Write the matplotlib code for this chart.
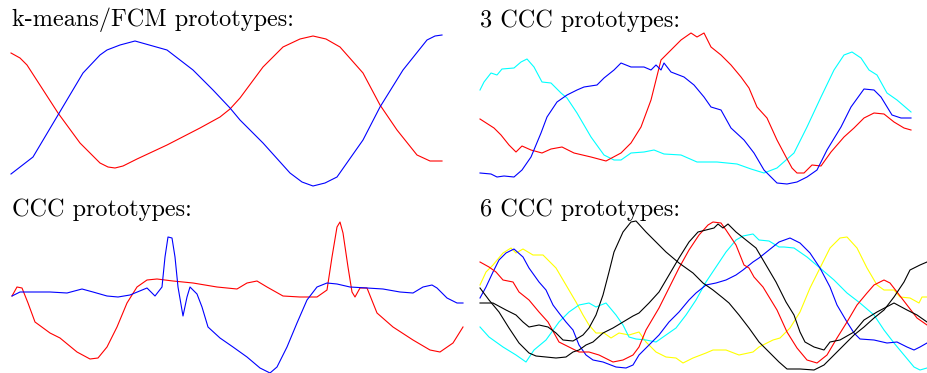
import matplotlib
matplotlib.use("Agg")
import matplotlib.pyplot as plt

# ---------------- DATOS (t = muestra, v = amplitud) ----------------
# k-means/FCM
km_red = [(1, 137), (10, 132), (17, 125), (48, 77), (70, 47), (90, 27), (98, 23), (105, 22),
          (113, 24), (127, 31), (157, 45), (190, 62), (210, 73), (220, 81), (230, 92), (253, 123),
          (273, 143), (290, 151), (303, 154), (316, 151), (330, 143), (353, 117), (370, 85),
          (387, 60), (407, 35), (420, 29), (432, 29)]
km_blue = [(1, 16), (23, 33), (48, 75), (73, 117), (90, 135), (97, 140), (110, 145), (125, 149),
           (157, 140), (183, 120), (203, 100), (220, 82), (230, 70), (253, 47), (280, 17), (292, 8),
           (303, 4), (315, 7), (327, 13), (353, 50), (370, 83), (393, 120), (417, 150), (425, 154),
           (432, 155)]

# 3 CCC
c3_cyan = [(2, 100), (6, 108), (13, 117), (19, 115), (24, 121), (36, 122), (43, 128), (49, 131),
           (56, 123), (64, 108), (73, 107), (83, 97), (89, 92), (99, 77), (113, 53), (126, 35),
           (136, 30), (143, 30), (153, 37), (166, 38), (176, 40), (186, 36), (203, 35), (219, 28),
           (239, 28), (259, 26), (273, 21), (286, 17), (299, 22), (316, 37), (329, 63), (343, 93),
           (356, 120), (366, 135), (374, 138), (383, 132), (391, 120), (399, 115), (409, 97),
           (419, 90), (433, 78)]
c3_red = [(2, 71), (16, 62), (23, 55), (31, 45), (38, 38), (44, 44), (53, 40), (64, 37), (73, 41),
          (84, 43), (96, 37), (113, 33), (128, 29), (143, 37), (153, 47), (163, 63), (173, 90),
          (183, 130), (193, 140), (203, 150), (213, 157), (219, 153), (226, 157), (233, 143),
          (243, 135), (253, 125), (263, 113), (271, 102), (279, 83), (289, 72), (299, 50), (308, 33),
          (314, 22), (319, 17), (326, 17), (334, 25), (343, 24), (353, 38), (366, 53), (376, 62),
          (386, 72), (396, 77), (406, 76), (416, 68), (426, 62), (433, 60)]
c3_blue = [(2, 17), (13, 16), (19, 13), (26, 14), (36, 13), (44, 20), (53, 33), (63, 57), (69, 73),
           (79, 88), (89, 95), (99, 100), (106, 103), (119, 105), (126, 112), (136, 120), (143, 127),
           (153, 123), (166, 123), (173, 120), (178, 125), (183, 120), (186, 127), (193, 118),
           (206, 113), (216, 105), (226, 93), (233, 83), (243, 80), (253, 62), (266, 50), (276, 37),
           (286, 20), (299, 7), (309, 6), (319, 8), (329, 13), (339, 20), (349, 40), (363, 63),
           (373, 83), (386, 101), (396, 100), (403, 93), (414, 75), (423, 72), (433, 72)]

# CCC
cc_red = [(2, 77), (7, 86), (12, 85), (18, 70), (25, 51), (40, 40), (50, 35), (67, 21), (80, 14),
          (88, 15), (97, 26), (107, 46), (117, 70), (127, 86), (137, 93), (147, 94), (163, 92),
          (183, 90), (207, 86), (227, 84), (237, 90), (247, 92), (257, 86), (273, 77), (290, 76),
          (307, 76), (317, 83), (322, 116), (327, 146), (330, 151), (333, 140), (338, 106), (342, 81),
          (345, 76), (350, 85), (357, 85), (367, 60), (383, 46), (403, 33), (420, 23), (430, 21),
          (443, 30), (453, 46)]
cc_blue = [(2, 77), (10, 81), (23, 81), (40, 81), (57, 80), (72, 84), (83, 81), (97, 77), (108, 76),
           (120, 78), (137, 85), (145, 77), (152, 86), (155, 116), (158, 136), (162, 135), (165, 116),
           (168, 86), (173, 57), (177, 76), (180, 86), (187, 79), (192, 66), (198, 46), (210, 35),
           (223, 26), (237, 16), (250, 5), (260, 0), (267, 6), (277, 26), (287, 50), (297, 73),
           (307, 86), (317, 90), (327, 89), (340, 86), (357, 85), (373, 84), (390, 81), (403, 80),
           (413, 86), (422, 88), (427, 85), (437, 75), (447, 70), (453, 70)]

# 6 CCC
c6_black1 = [(2, 70), (15, 70), (28, 63), (38, 58), (45, 51), (51, 46), (61, 48), (70, 46), (78, 40),
             (85, 33), (95, 32), (105, 38), (111, 45), (118, 58), (125, 78), (131, 101), (136, 121),
             (145, 141), (153, 151), (158, 152), (168, 141), (178, 131), (188, 121), (201, 110),
             (215, 100), (225, 90), (235, 83), (245, 75), (251, 70), (261, 58), (271, 45), (281, 31),
             (291, 21), (301, 11), (309, 4), (322, 4), (336, 3), (346, 8), (356, 18), (366, 28),
             (376, 38), (386, 46), (396, 55), (406, 63), (416, 76), (426, 91), (432, 103), (442, 108),
             (449, 111)]
c6_black2 = [(2, 85), (11, 73), (21, 61), (31, 45), (41, 30), (51, 20), (58, 17), (78, 15), (88, 16),
             (95, 21), (101, 23), (108, 28), (115, 31), (125, 40), (135, 45), (145, 51), (155, 57),
             (161, 60), (171, 70), (181, 81), (191, 98), (201, 115), (211, 131), (220, 141), (228, 143),
             (236, 145), (240, 149), (245, 145), (250, 149), (258, 141), (268, 133), (278, 125),
             (288, 108), (298, 91), (308, 71), (316, 58), (322, 41), (327, 31), (336, 26), (346, 23),
             (352, 31), (362, 33), (376, 41), (386, 53), (399, 61), (416, 70), (429, 63), (439, 58),
             (449, 51)]
c6_red = [(2, 111), (11, 106), (18, 101), (25, 93), (35, 91), (41, 81), (51, 73), (61, 61), (70, 51),
          (76, 40), (81, 31), (91, 26), (101, 21), (111, 21), (121, 18), (135, 11), (145, 13),
          (155, 18), (161, 26), (168, 43), (181, 65), (191, 85), (201, 105), (211, 123), (221, 138),
          (230, 148), (235, 151), (243, 150), (248, 143), (258, 128), (266, 108), (271, 105),
          (276, 96), (285, 86), (299, 63), (309, 41), (319, 25), (329, 13), (339, 10), (349, 18),
          (359, 35), (369, 51), (379, 68), (389, 80), (396, 88), (406, 93), (412, 90), (419, 81),
          (429, 68), (439, 55), (449, 48)]
c6_blue = [(2, 75), (8, 86), (15, 101), (21, 113), (28, 120), (36, 124), (45, 116), (51, 105),
           (61, 91), (68, 83), (75, 68), (81, 60), (88, 51), (95, 43), (101, 28), (108, 18), (115, 13),
           (125, 11), (138, 6), (148, 5), (155, 8), (161, 18), (171, 28), (181, 38), (191, 51),
           (201, 61), (211, 73), (218, 80), (228, 88), (238, 90), (248, 93), (258, 98), (265, 103),
           (275, 111), (281, 115), (291, 123), (301, 131), (312, 135), (322, 130), (332, 120),
           (342, 105), (352, 86), (359, 68), (369, 51), (376, 40), (382, 34), (396, 33), (409, 30),
           (419, 31), (429, 26), (436, 23), (442, 26), (449, 30)]
c6_yellow = [(2, 88), (8, 101), (15, 108), (25, 120), (33, 125), (38, 120), (45, 124), (55, 118),
             (65, 118), (78, 105), (88, 88), (98, 71), (105, 58), (111, 48), (118, 40), (126, 40),
             (133, 35), (141, 40), (151, 38), (161, 41), (168, 31), (178, 21), (188, 16), (198, 15),
             (205, 10), (215, 15), (228, 20), (235, 23), (248, 23), (261, 18), (275, 21), (281, 26),
             (295, 33), (302, 35), (312, 45), (322, 61), (332, 85), (342, 105), (352, 125), (362, 135),
             (369, 136), (379, 125), (389, 105), (399, 88), (406, 83), (416, 83), (422, 76), (432, 75),
             (441, 70), (444, 76), (449, 76)]
c6_cyan = [(2, 46), (11, 36), (25, 26), (38, 18), (48, 11), (56, 23), (68, 33), (81, 51), (91, 61),
           (101, 68), (111, 70), (118, 66), (128, 70), (138, 58), (145, 48), (151, 36), (158, 34),
           (168, 33), (178, 31), (188, 38), (198, 45), (208, 58), (218, 73), (228, 91), (238, 106),
           (248, 121), (258, 133), (265, 137), (275, 139), (281, 133), (291, 132), (301, 126),
           (306, 126), (316, 125), (329, 116), (342, 105), (356, 93), (369, 80), (382, 70), (396, 58),
           (406, 43), (416, 30), (426, 18), (436, 6), (442, 3), (449, 5)]

titulos = ["k-means/FCM prototypes:", "3 CCC prototypes:", "CCC prototypes:", "6 CCC prototypes:"]

# ---------------- FIGURA ----------------
W, H = 927, 373
fig = plt.figure(figsize=(W / 100, H / 100), dpi=100)

def panel(x0, y0, w, h, xmax, ymax):
    # posicion en pixeles (y desde arriba)
    ax = fig.add_axes([x0 / W, 1 - (y0 + h) / H, w / W, h / H])
    ax.set_xlim(0, xmax)
    ax.set_ylim(0, ymax)
    ax.axis("off")
    return ax

def graficar(ax, serie, color):
    t = [p[0] for p in serie]
    v = [p[1] for p in serie]
    ax.plot(t, v, color=color, lw=0.8, clip_on=False)

ax1 = panel(10, 30, 455, 160, 455, 160)
graficar(ax1, km_red, "#ff0000")
graficar(ax1, km_blue, "#0000ff")

ax2 = panel(478, 30, 449, 160, 449, 160)
graficar(ax2, c3_cyan, "#00ffff")
graficar(ax2, c3_red, "#ff0000")
graficar(ax2, c3_blue, "#0000ff")

ax3 = panel(10, 218, 455, 155, 455, 155)
graficar(ax3, cc_red, "#ff0000")
graficar(ax3, cc_blue, "#0000ff")

ax4 = panel(478, 218, 449, 155, 449, 155)
graficar(ax4, c6_yellow, "#ffff00")
graficar(ax4, c6_cyan, "#00ffff")
graficar(ax4, c6_blue, "#0000ff")
graficar(ax4, c6_red, "#ff0000")
graficar(ax4, c6_black1, "black")
graficar(ax4, c6_black2, "black")

pos = [(12, 26.5), (480, 26.5), (12, 216), (480, 216)]
for (x, y), s in zip(pos, titulos):
    fig.text(x / W, 1 - y / H, s, family="cmr10", fontsize=17.5, va="baseline", ha="left")

fig.savefig("out.png", dpi=100)
